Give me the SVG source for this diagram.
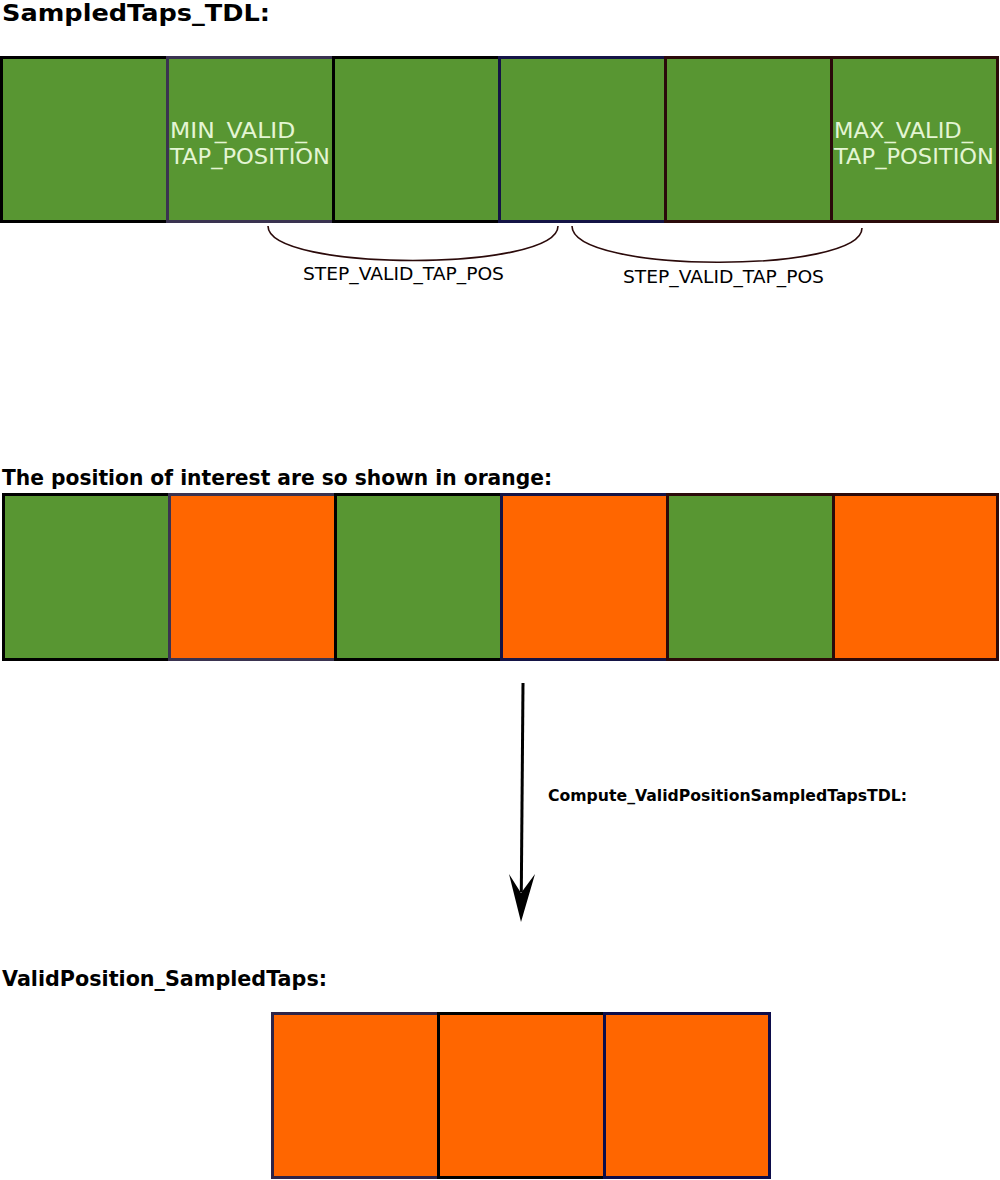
<svg xmlns="http://www.w3.org/2000/svg" width="1000" height="1180" viewBox="0 0 1000 1180">
<defs>
<style>
.g{fill:#589632;stroke-width:3}
.o{fill:#ff6600;stroke-width:3}
.h{font-family:"DejaVu Sans",Verdana,sans-serif;font-weight:bold;fill:#000}
.bt{font-family:"DejaVu Sans",Verdana,sans-serif;font-size:22px;fill:#e4f5d4}
.st{font-family:"DejaVu Sans",Verdana,sans-serif;font-size:17px;fill:#000}
.br{fill:none;stroke:#2b0a0a;stroke-width:1.6}
</style>
</defs>
<rect width="1000" height="1180" fill="#fff"/>
<text class="h" x="2" y="21" font-size="23" textLength="268" lengthAdjust="spacingAndGlyphs">SampledTaps_TDL:</text>
<g id="row1">
<g id="r1b1"><rect class="g" x="1.5" y="57.5" width="166" height="164" stroke="#000"/></g>
<g id="r1b2"><rect class="g" x="167.5" y="57.5" width="166" height="164" stroke="#3a3350"/>
<text class="bt" x="170" y="138" textLength="137" lengthAdjust="spacingAndGlyphs">MIN_VALID_</text>
<text class="bt" x="170" y="164" textLength="160" lengthAdjust="spacingAndGlyphs">TAP_POSITION</text></g>
<g id="r1b3"><rect class="g" x="333.5" y="57.5" width="166" height="164" stroke="#000"/></g>
<g id="r1b4"><rect class="g" x="499.5" y="57.5" width="166" height="164" stroke="#141446"/></g>
<g id="r1b5"><rect class="g" x="665.5" y="57.5" width="166" height="164" stroke="#2b0a0a"/></g>
<g id="r1b6"><rect class="g" x="831.5" y="57.5" width="166" height="164" stroke="#2b0a0a"/>
<text class="bt" x="834" y="138" textLength="139" lengthAdjust="spacingAndGlyphs">MAX_VALID_</text>
<text class="bt" x="834" y="164" textLength="160" lengthAdjust="spacingAndGlyphs">TAP_POSITION</text></g>
</g>
<g id="braces">
<path class="br" d="M268,226 C268,272 558,272 558,226"/>
<path class="br" d="M572,226 C572,274 862,274 862,228"/>
<text class="st" x="303" y="280" textLength="201" lengthAdjust="spacingAndGlyphs">STEP_VALID_TAP_POS</text>
<text class="st" x="623" y="283" textLength="201" lengthAdjust="spacingAndGlyphs">STEP_VALID_TAP_POS</text>
</g>
<text class="h" x="2" y="485" font-size="21" textLength="550" lengthAdjust="spacingAndGlyphs">The position of interest are so shown in orange:</text>
<g id="row2">
<g id="r2b1"><rect class="g" x="3.5" y="494.5" width="166" height="165" stroke="#000"/></g>
<g id="r2b2"><rect class="o" x="169.5" y="494.5" width="166" height="165" stroke="#3a3350"/></g>
<g id="r2b3"><rect class="g" x="335.5" y="494.5" width="166" height="165" stroke="#000"/></g>
<g id="r2b4"><rect class="o" x="501.5" y="494.5" width="166" height="165" stroke="#141446"/></g>
<g id="r2b5"><rect class="g" x="667.5" y="494.5" width="166" height="165" stroke="#2b0a0a"/></g>
<g id="r2b6"><rect class="o" x="833.5" y="494.5" width="164" height="165" stroke="#2b0a0a"/></g>
</g>
<g id="connectors">
<line x1="523" y1="683" x2="521.3" y2="892" stroke="#000" stroke-width="3"/>
<polygon points="521,922 509,874 521,893 535,874" fill="#000"/>
</g>
<text class="h" x="548" y="801" font-size="15.5" textLength="359" lengthAdjust="spacingAndGlyphs">Compute_ValidPositionSampledTapsTDL:</text>
<text class="h" x="2" y="986" font-size="21" textLength="325" lengthAdjust="spacingAndGlyphs">ValidPosition_SampledTaps:</text>
<g id="row3">
<g id="r3b1"><rect class="o" x="272.5" y="1013.5" width="166" height="164" stroke="#2e2448"/></g>
<g id="r3b2"><rect class="o" x="438.5" y="1013.5" width="166" height="164" stroke="#000"/></g>
<g id="r3b3"><rect class="o" x="604.5" y="1013.5" width="165" height="164" stroke="#0c0c4a"/></g>
</g>
</svg>
